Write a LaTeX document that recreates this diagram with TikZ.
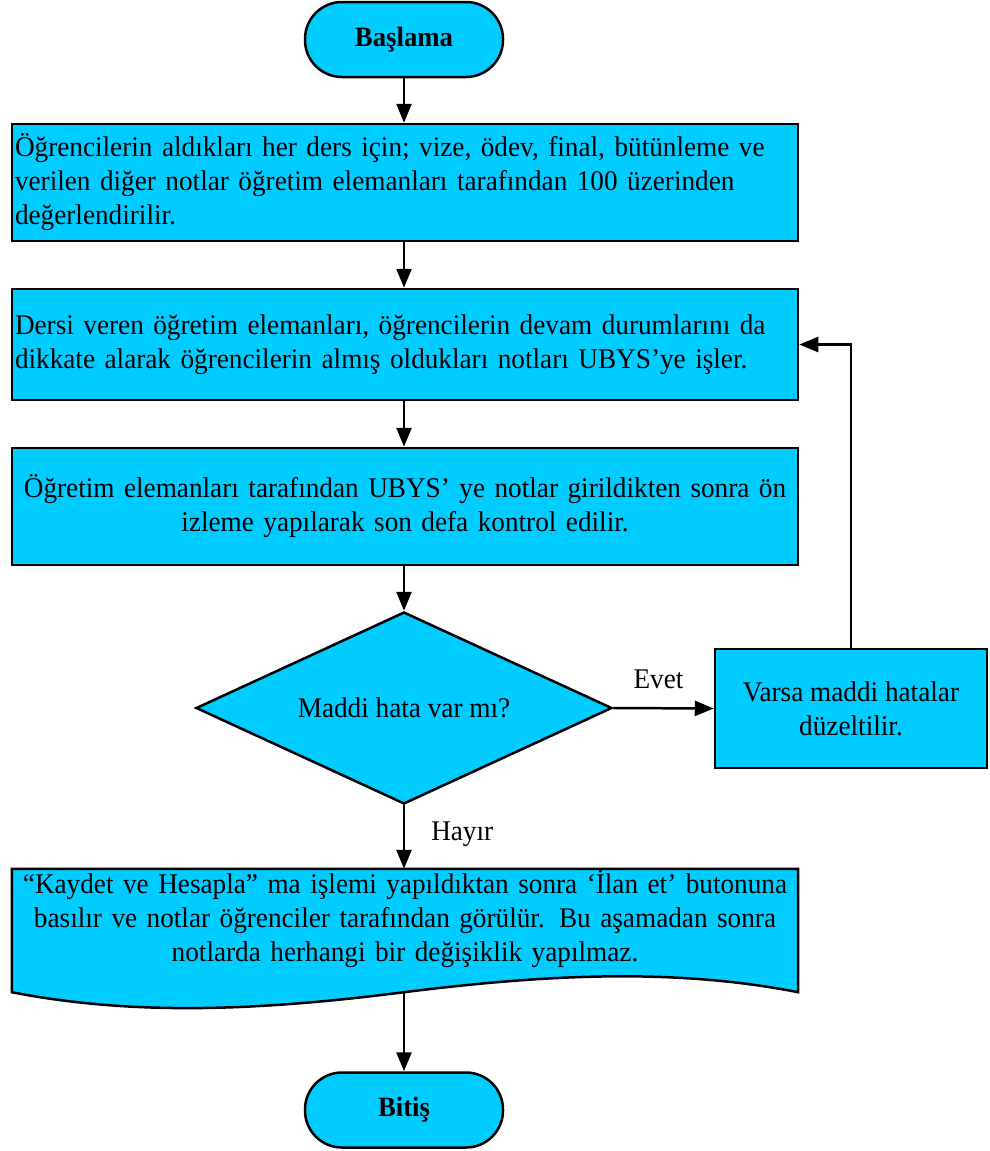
\documentclass[tikz,border=0pt]{standalone}
\usepackage{fontspec}
\setmainfont{Liberation Serif}[FakeStretch=0.955]
\usetikzlibrary{arrows.meta,shapes.geometric,calc}
\definecolor{boxfill}{RGB}{0,204,255}
\begin{document}
\begin{tikzpicture}[x=1pt,y=-1pt,
  every node/.style={font=\fontsize{28.5}{34}\selectfont},
  base/.style={draw=black,fill=boxfill,line width=2.5pt},
  term/.style={base,rounded corners=37pt,minimum width=198pt,minimum height=75pt,inner sep=0pt,font=\fontsize{28}{34}\selectfont\bfseries},
  proc/.style={base,rectangle,minimum width=786pt,inner xsep=3pt,inner ysep=0pt,text width=780pt},
  dec/.style={base,diamond,minimum width=416pt,minimum height=192pt,inner sep=0pt,aspect=2.17},
  conn/.style={line width=2.5pt,-{Triangle[length=19pt,width=15pt]}},
  lbl/.style={inner sep=0pt}
]
\useasboundingbox (0,0) rectangle (990,1151);

\node[term] (start) at (404,39.5) {Başlama};

\node[proc,minimum height=117pt,align=left] (b1) at (405,182.5)
 {Öğrencilerin aldıkları her ders için; vize, ödev, final, bütünleme ve\\
  verilen diğer notlar öğretim elemanları tarafından 100 üzerinden\\
  değerlendirilir.};

\node[proc,minimum height=111pt,align=left] (b2) at (405,344.5)
 {Dersi veren öğretim elemanları, öğrencilerin devam durumlarını da\\
  dikkate alarak öğrencilerin almış oldukları notları UBYS’ye işler.};

\node[proc,minimum height=117pt,align=center] (b3) at (405,506.5)
 {Öğretim elemanları tarafından UBYS’ ye notlar girildikten sonra ön\\
  izleme yapılarak son defa kontrol edilir.};

\node[dec] (dia) at (404,708) {Maddi hata var mı?};

\node[base,rectangle,minimum width=272pt,minimum height=119pt,inner sep=0pt,align=center] (fix) at (851,708.5)
 {Varsa maddi hatalar\\düzeltilir.};

\node[rectangle,minimum width=786pt,minimum height=123pt,inner sep=0pt] (doc) at (405,930.5) {};
\draw[base] (doc.north west) -- (doc.north east) -- (doc.south east)
  .. controls ($(doc.south east)+(-128,-25)$) and ($(doc.south east)+(-258,-17)$) .. ($(doc.south)+(-1,0)$)
  .. controls ($(doc.south)+(-135,17)$) and ($(doc.south west)+(128,25)$) .. (doc.south west) -- cycle;
\node[align=center,text width=780pt,inner sep=0pt] (doctxt) at (405,919)
 {“Kaydet ve Hesapla” ma işlemi yapıldıktan sonra ‘İlan et’ butonuna\\
  basılır ve notlar öğrenciler tarafından görülür. Bu aşamadan sonra\\
  notlarda herhangi bir değişiklik yapılmaz.};

\node[term] (end) at (404,1110) {Bitiş};

\draw[conn] (start.south) -- (start.south |- b1.north);
\draw[conn] (start.south |- b1.south) -- (start.south |- b2.north);
\draw[conn] (start.south |- b2.south) -- (start.south |- b3.north);
\draw[conn] (start.south |- b3.south) -- (dia.north);
\draw[conn] (dia.south) -- (dia.south |- doc.north) node[lbl,pos=0.45,right=26pt] (hayir) {Hayır};
\draw[conn] (dia.east) -- (fix.west) node[lbl,pos=0.45,above=18pt] (evet) {Evet};
\draw[conn] (fix.north) |- (b2.east);
\draw[conn] ($(doc.south)+(-1,0)$) coordinate (docbot) -- (end.north);
\end{tikzpicture}
\end{document}
